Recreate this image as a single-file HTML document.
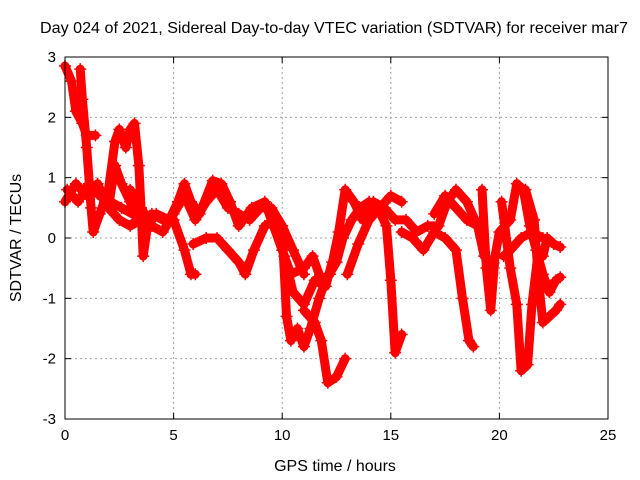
<!DOCTYPE html>
<html><head><meta charset="utf-8"><style>
body{margin:0;background:#fff}
svg{display:block;font-family:"Liberation Sans",sans-serif}
</style></head><body>
<svg id="chart" width="640" height="480">
<text x="334" y="33" font-size="16" text-anchor="middle" textLength="588" lengthAdjust="spacingAndGlyphs" fill="#000">Day 024 of 2021, Sidereal Day-to-day VTEC variation (SDTVAR) for receiver mar7</text>
<text x="335" y="471" font-size="16" text-anchor="middle">GPS time / hours</text>
<text x="21" y="238" font-size="16" text-anchor="middle" transform="rotate(-90 21 238)">SDTVAR / TECUs</text>
<g id="grid"></g><g id="ticks"></g><g id="series"></g>
<rect x="65" y="57" width="543" height="362" fill="none" stroke="#000" stroke-width="1"/>
</svg>
<script>
const xTicks=[0,5,10,15,20,25];
const yTicks=[-3,-2,-1,0,1,2,3];
const track1=[[0,2.85],[0.3,2.6],[0.5,2.1],[0.8,1.9],[1.0,1.7],[1.4,1.7]];
const track2=[[0.7,2.8],[0.8,2.3],[1.0,1.5],[1.2,0.5],[1.3,0.1],[1.6,0.4],[2.0,0.8],[2.3,1.6],[2.5,1.8],[2.8,1.5],[3.0,1.8],[3.2,1.9],[3.4,1.2],[3.5,0.5],[3.6,-0.3],[3.8,0.2],[4.2,0.4],[4.8,0.3],[5.2,0.6],[5.5,0.9],[5.8,0.6],[6.2,0.4],[6.8,0.95],[7.2,0.9],[7.6,0.6],[8.0,0.2],[8.6,0.5],[9.2,0.6],[9.6,0.2],[10,-0.2],[10.4,-0.6],[11,-0.5],[11.4,-0.3],[11.8,-0.7],[12.2,-0.6],[12.6,0.1],[12.9,0.8],[13.3,0.6],[13.7,0.3],[14.2,0.6],[14.7,0.5],[15.2,0.3],[15.7,0.3],[16.2,0.1],[16.7,0.2],[17.2,0.2],[17.6,0.6],[18,0.8],[18.5,0.6],[19,0.2],[19.3,-0.3]];
const track3=[[0,0.6],[0.5,0.9],[1.0,0.7],[1.5,0.9],[2,0.5],[2.5,0.3],[3,0.2],[3.5,0.3],[4,0.4],[4.5,0.3],[5,0.3],[5.5,-0.2],[5.8,-0.6],[6.0,-0.6]];
const track4=[[5.9,-0.1],[6.5,0.0],[7.0,0.0],[7.5,-0.2],[8,-0.4],[8.3,-0.6],[8.7,-0.2],[9.2,0.2],[9.7,0.3],[10,0.1],[10.2,-1.3],[10.4,-1.7],[10.7,-1.5],[11,-1.8],[11.3,-1.5],[11.7,-1.0],[12,-0.7],[12.5,-0.4],[12.8,0],[13.2,0.3],[13.6,0.5],[14,0.6],[14.4,0.5],[14.8,0.2],[15,-0.7],[15.2,-1.9],[15.5,-1.6]];
const track5=[[11,-1.2],[11.5,-1.4],[11.8,-1.7],[12.1,-2.4],[12.5,-2.3],[12.9,-2.0]];
const track6=[[13,-0.6],[13.5,-0.1],[14,0.3],[14.5,0.5],[15,0.7],[15.5,0.6]];
const track7=[[15.5,0.1],[16,0],[16.5,-0.2],[17,0.1],[17.5,0],[18,-0.2],[18.3,-1.0],[18.6,-1.7],[18.8,-1.8]];
const track8=[[17,0.4],[17.5,0.7],[18,0.5],[18.5,0.3],[19,0.2]];
const track9=[[19.2,0.8],[19.4,-0.5],[19.6,-1.2],[19.8,-0.3],[20,0.1],[20.5,0.3],[20.8,0.9],[21.1,0.8],[21.4,0.2],[21.7,-0.2],[22.0,-0.6],[22.3,-0.9],[22.6,-0.7],[22.8,-0.65]];
const track10=[[20.1,0.6],[20.5,-0.5],[20.8,-1.1],[21.0,-2.2],[21.3,-2.1],[21.5,-1.1],[21.8,-0.2],[22,-0.3],[22.2,0],[22.5,-0.1],[22.8,-0.15]];
const track11=[[21.2,0.8],[21.6,0.3],[21.8,-0.7],[22.0,-1.4],[22.3,-1.3],[22.6,-1.2],[22.8,-1.1]];
const track12=[[20.2,-0.3],[20.5,-0.2],[21,0],[21.5,0.1],[22,0.0]];
const track13=[[2.0,0.5],[2.3,1.2],[2.6,0.9],[3.0,0.6],[3.3,0.3]];
const track14=[[3,0.8],[3.5,0.5],[4,0.2],[4.5,0.1],[5,0.4],[5.5,0.7],[6,0.3],[6.5,0.6],[7,0.8],[7.5,0.5],[8,0.4],[8.5,0.3],[9,0.5],[9.5,0.5],[10,0.2],[10.5,-0.2],[11,-0.6]];
const track15=[[10.1,-0.3],[10.5,-0.9],[11,-1.1],[11.5,-0.7],[12,-0.8],[12.3,-0.4]];
const track16=[[0.1,0.8],[0.6,0.6],[1.1,0.9],[1.6,0.7],[2.1,0.6],[2.6,0.5],[3.1,0.4]];
const tracks=[track1,track2,track3,track4,track5,track6,track7,track8,track9,track10,track11,track12,track13,track14,track15,track16];

const NS="http://www.w3.org/2000/svg";
const L=65,R=608,T=57,B=419;
const xs=v=>L+(v-0)/(25-0)*(R-L);
const ys=v=>B-(v+3)/6*(B-T);
function mk(tag,attrs,parent){const e=document.createElementNS(NS,tag);for(const k in attrs)e.setAttribute(k,attrs[k]);parent.appendChild(e);return e;}
const grid=document.getElementById('grid'),ticks=document.getElementById('ticks'),ser=document.getElementById('series');
xTicks.forEach(t=>{
  const x=xs(t);
  if(t>0&&t<25){const g=mk('line',{x1:x,x2:x,y1:T,y2:B,stroke:'#a0a0a0','stroke-dasharray':'2,3'},grid);
  
  }
  mk('line',{x1:x,x2:x,y1:B,y2:B-6,stroke:'#000'},ticks);
  mk('line',{x1:x,x2:x,y1:T,y2:T+6,stroke:'#000'},ticks);
  const tx=mk('text',{x:x,y:B+21,'font-size':'15','text-anchor':'middle'},ticks);tx.textContent=t;
  
  
});
yTicks.forEach(t=>{
  const y=ys(t);
  if(t>-3&&t<3){const g=mk('line',{x1:L,x2:R,y1:y,y2:y,stroke:'#a0a0a0','stroke-dasharray':'2,3'},grid);
  
  }
  mk('line',{x1:L,x2:L+6,y1:y,y2:y,stroke:'#000'},ticks);
  mk('line',{x1:R,x2:R-6,y1:y,y2:y,stroke:'#000'},ticks);
  const tx=mk('text',{x:L-9,y:y+5,'font-size':'15','text-anchor':'end'},ticks);tx.textContent=t;
  
  
});
tracks.forEach((tr,i)=>{
  const pl=mk('polyline',{points:tr.map(p=>xs(p[0])+','+ys(p[1])).join(' '),fill:'none',stroke:'#ff0000','stroke-width':'9','stroke-linejoin':'round','stroke-linecap':'round'},ser);
  
  
  tr.forEach(p=>{
    const x=xs(p[0]),y=ys(p[1]);
    const m=mk('path',{d:`M${x-6},${y}H${x+6}M${x},${y-6}V${y+6}`,stroke:'#ff0000','stroke-width':'1.5'},ser);
    
    
  });
});
</script>
</body></html>
